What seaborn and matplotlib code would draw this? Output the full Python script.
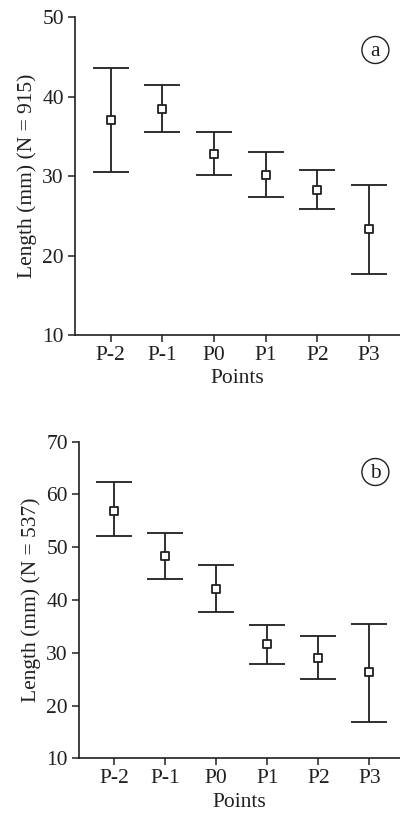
import numpy as np
import pandas as pd
import matplotlib
matplotlib.use("Agg")
import matplotlib.pyplot as plt
import seaborn as sns
from matplotlib.patches import Ellipse

sns.set_theme(style="ticks")
plt.rcParams['font.family'] = ['Liberation Serif', 'DejaVu Serif']

points = ["P-2", "P-1", "P0", "P1", "P2", "P3"]

a_mean = [37.0, 38.4, 32.75, 30.1, 28.3, 23.3]
a_low = [30.5, 35.5, 30.1, 27.4, 25.8, 17.7]
a_high = [43.6, 41.4, 35.5, 33.0, 30.7, 28.9]

b_mean = [56.9, 48.3, 42.1, 31.6, 29.1, 26.35]
b_low = [52.1, 43.9, 37.7, 27.9, 25.1, 16.8]
b_high = [62.4, 52.7, 46.7, 35.3, 33.2, 35.4]

ink = "#231f20"
fs = 15.5

fig = plt.figure(figsize=(4.0, 8.16), dpi=100)
ax_a = fig.add_axes([0.1875, 0.5895, 0.8125, 0.3895])
ax_b = fig.add_axes([0.1975, 0.0707, 0.8025, 0.388])


def panel(ax, mean, low, high, ylim, yticks, ylabel, letter, cy):
    df = pd.DataFrame({"point": points, "mean": mean, "low": low, "high": high})
    x = np.arange(len(points))
    yerr = np.vstack([df["mean"] - df["low"], df["high"] - df["mean"]])
    ax.errorbar(x, df["mean"], yerr=yerr, fmt="none", ecolor=ink,
                elinewidth=1.3, capsize=13.3, capthick=1.3, zorder=2)
    sns.scatterplot(x=x, y=df["mean"], ax=ax, marker="s", s=32,
                    facecolor="white", edgecolor=ink, linewidth=1.3, zorder=3)
    ax.set_xlim(-0.69, 5.6)
    ax.set_ylim(*ylim)
    ax.set_yticks(yticks)
    ax.set_xticks(x)
    ax.set_xticklabels(points)
    sns.despine(ax=ax)
    for s in ["left", "bottom"]:
        ax.spines[s].set_color(ink)
        ax.spines[s].set_linewidth(1.2)
    ax.tick_params(axis="both", colors=ink, labelsize=fs, length=5, width=1.1,
                   direction="out", pad=3)
    ax.set_xlabel("Points", fontsize=fs, color=ink, labelpad=3)
    ax.set_ylabel(ylabel, fontsize=fs, color=ink, labelpad=4)
    # circled panel letter
    ell = Ellipse((0.9385, cy), width=27 / 400, height=27 / 816,
                  transform=fig.transFigure, facecolor="none",
                  edgecolor=ink, linewidth=1.0)
    fig.patches.append(ell)
    fig.text(0.9385, cy - 0.002, letter, ha="center", va="center",
             fontsize=fs, color=ink)


panel(ax_a, a_mean, a_low, a_high, (10, 50), [10, 20, 30, 40, 50],
      "Length (mm) (N = 915)", "a", 1 - 50 / 816)
panel(ax_b, b_mean, b_low, b_high, (10, 70), [10, 20, 30, 40, 50, 60, 70],
      "Length (mm) (N = 537)", "b", 1 - 472 / 816)

fig.savefig("out.png", dpi=100)
